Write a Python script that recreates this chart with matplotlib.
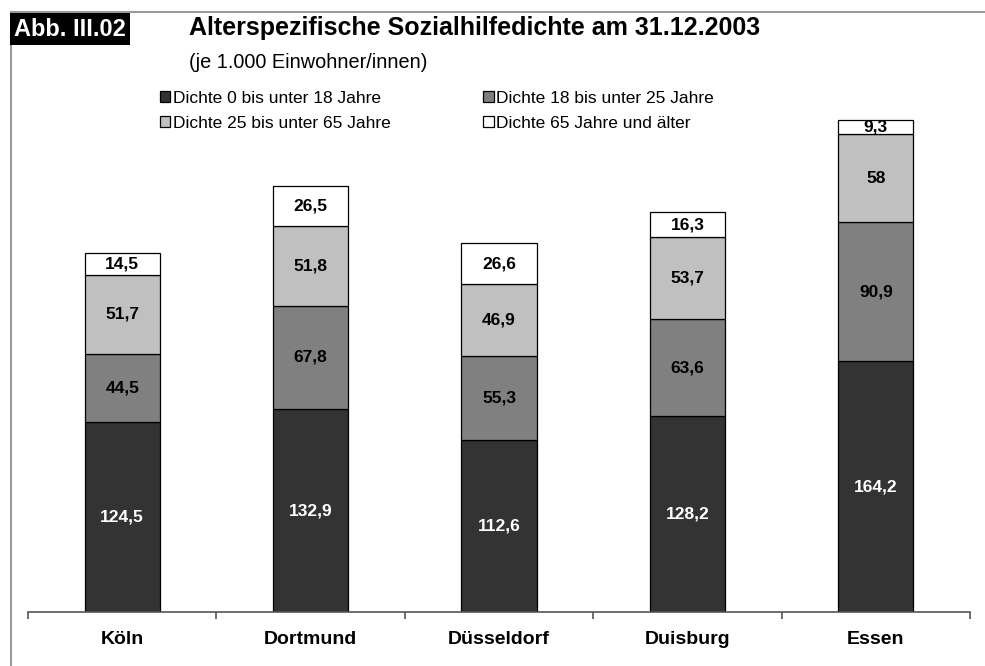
import matplotlib
matplotlib.use("Agg")
import matplotlib.pyplot as plt
from matplotlib.lines import Line2D
import numpy as np

plt.rcParams['font.family'] = ['Liberation Sans', 'DejaVu Sans']

# Daten (je 1.000 Einwohner/innen)
staedte = ["Köln", "Dortmund", "Düsseldorf", "Duisburg", "Essen"]
dichte_0_18 = [124.5, 132.9, 112.6, 128.2, 164.2]
dichte_18_25 = [44.5, 67.8, 55.3, 63.6, 90.9]
dichte_25_65 = [51.7, 51.8, 46.9, 53.7, 58.0]
dichte_65 = [14.5, 26.5, 26.6, 16.3, 9.3]

reihen = [dichte_0_18, dichte_18_25, dichte_25_65, dichte_65]
namen = ["Dichte 0 bis unter 18 Jahre", "Dichte 18 bis unter 25 Jahre",
         "Dichte 25 bis unter 65 Jahre", "Dichte 65 Jahre und älter"]
farben = ["#333333", "#808080", "#c0c0c0", "#ffffff"]
textfarben = ["white", "black", "black", "black"]

W, H = 985, 666
fig = plt.figure(figsize=(W / 100, H / 100), dpi=100)

# achse: basislinie bei y=612px, 1.527 px pro einheit
ymax = 350
ax = fig.add_axes([28 / W, (H - 612) / H, (970 - 28) / W, ymax * 1.527 / H])

x = np.arange(len(staedte))
unten = np.zeros(len(staedte))
bars = []
for werte, name, farbe, tf in zip(reihen, namen, farben, textfarben):
    b = ax.bar(x, werte, 0.4, bottom=unten, color=farbe, edgecolor="black",
               linewidth=0.9, label=name, zorder=2)
    bars.append(b)
    for xi, u, v in zip(x, unten, werte):
        ax.text(xi, u + v / 2, f"{v:g}".replace(".", ","), ha="center",
                va="center", fontsize=12.5, fontweight="bold", color=tf, zorder=3)
    unten = unten + np.array(werte)

ax.set_xlim(-0.5, len(staedte) - 0.5)
ax.set_ylim(0, ymax)
for s in ["top", "right", "left"]:
    ax.spines[s].set_visible(False)
ax.spines["bottom"].set_color("#555555")
ax.spines["bottom"].set_linewidth(1.2)
ax.set_yticks([])
ax.set_xticks(np.arange(-0.5, len(staedte)), minor=False)
ax.set_xticklabels([])
ax.tick_params(axis="x", length=5, width=1.2, color="#555555", direction="out")
for xi, st in zip(x, staedte):
    ax.text(xi, -18, st, ha="center", va="center", fontsize=14,
            fontweight="bold")

# rahmen
fig.add_artist(Line2D([11 / W, 1], [1 - 12 / H, 1 - 12 / H], color="#9a9a9a", lw=1.5))
fig.add_artist(Line2D([11 / W, 11 / W], [0, 1 - 12 / H], color="#9a9a9a", lw=1.5))

fig.text(14 / W, 1 - 29 / H, "Abb. III.02", color="white", fontsize=17,
         fontweight="bold", va="center", ha="left",
         bbox=dict(facecolor="black", edgecolor="none", pad=3))
fig.text(189 / W, 1 - 28 / H, "Alterspezifische Sozialhilfedichte am 31.12.2003",
         fontsize=18, fontweight="bold", va="center", ha="left")
fig.text(189 / W, 1 - 62 / H, "(je 1.000 Einwohner/innen)", fontsize=14.3,
         va="center", ha="left")

handles = [bars[0], bars[2], bars[1], bars[3]]
labels = [namen[0], namen[2], namen[1], namen[3]]
fig.legend(handles, labels, ncol=2, loc="upper left",
           bbox_to_anchor=(160 / W, 1 - 91 / H), frameon=False, fontsize=12.5,
           handlelength=0.6, handleheight=0.6, handletextpad=0.17,
           columnspacing=5.3, labelspacing=0.55, borderpad=0, borderaxespad=0)

fig.savefig("out.png", dpi=100)
